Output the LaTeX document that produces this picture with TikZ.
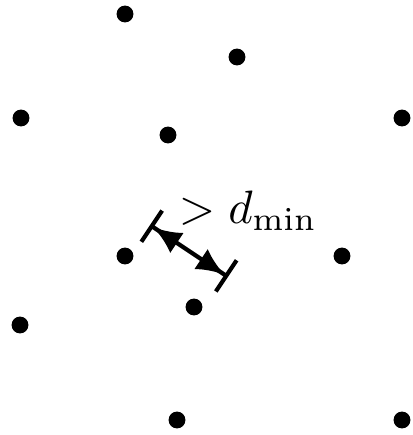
\documentclass[tikz,border=0pt]{standalone}
\usetikzlibrary{arrows.meta}

\tikzset{
  punto/.style={circle, fill=black, inner sep=0pt, minimum size=3.6pt},
  distancia/.style={line width=0.9pt, {Bar[width=8pt] Latex[length=6pt,width=5.2pt]}-{Latex[length=6pt,width=5.2pt] Bar[width=8pt]}}
}

\begin{document}
\begin{tikzpicture}[x=0.0075cm, y=-0.0075cm]
\useasboundingbox (0,0) rectangle (413,435);
% puntos
\foreach \n/\x/\y in {a/125/14, b/237/57, c/21/118, d/168/135, e/402/118,
                      f/125/256, g/342/256, h/194/307, i/20/325, j/177/420, k/402/420} {
    \node[punto] (\n) at (\x,\y) {};
}
% distancia minima
\coordinate (ini) at (150,225);
\coordinate (fin) at (228,277);
\draw[distancia] (ini) -- (fin);
\node[anchor=base west, inner sep=0pt] (etiq) at (178,223) {$>d_{\min}$};
\end{tikzpicture}
\end{document}
